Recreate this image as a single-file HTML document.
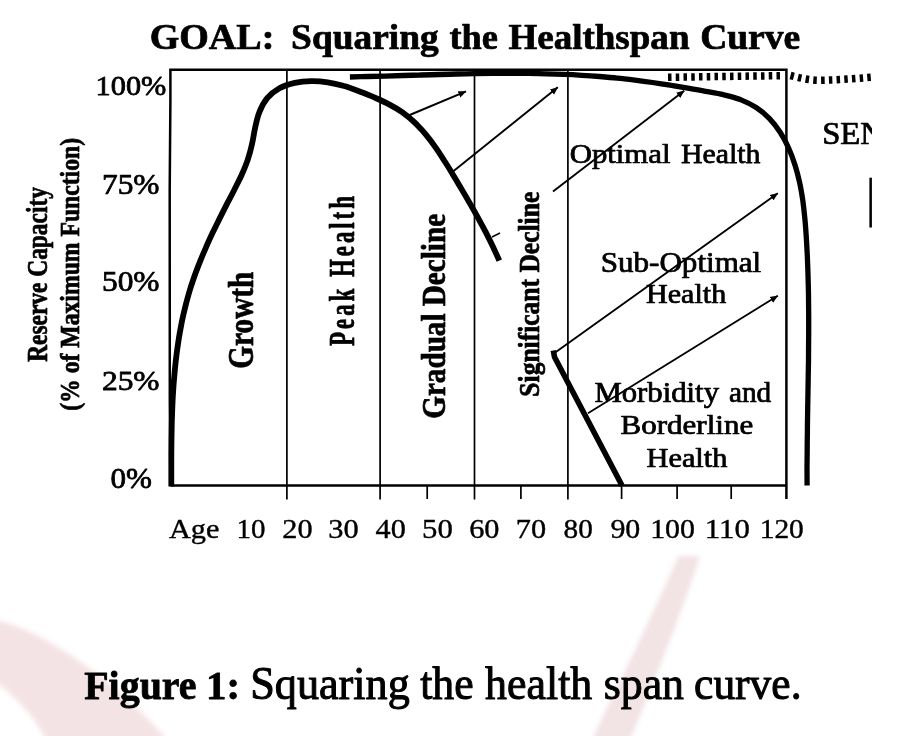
<!DOCTYPE html>
<html lang="en">
<head>
<meta charset="utf-8">
<title>Figure 1: Squaring the health span curve</title>
<style>
html,body{margin:0;padding:0;background:#fff;}
body{width:904px;height:736px;overflow:hidden;position:relative;}
svg{position:absolute;left:0;top:0;display:block;}
text{font-family:"Liberation Serif","Times New Roman",serif;fill:#000;white-space:pre;}
.b{font-weight:bold;}
.chart text{stroke:#000;stroke-width:0.75px;stroke-linejoin:round;}
.chart text.b{stroke-width:0.7px;}
.chart text.x{stroke-width:0.4px;}
</style>
</head>
<body>
<svg width="904" height="736" viewBox="0 0 904 736">
<defs>
<filter id="blur" x="-20%" y="-20%" width="140%" height="140%"><feGaussianBlur stdDeviation="2.5"/></filter>
<filter id="soft" x="-5%" y="-5%" width="110%" height="110%"><feGaussianBlur stdDeviation="0.4"/></filter>
<marker id="ah" viewBox="0 0 10 10" refX="9.5" refY="5" markerWidth="8" markerHeight="8" markerUnits="userSpaceOnUse" orient="auto"><path d="M0,0.8 L10,5 L0,9.2 Z" fill="#000"/></marker>
<clipPath id="clipR"><rect x="0" y="0" width="872" height="736"/></clipPath>
</defs>
<rect width="904" height="736" fill="#fff"/>

<!-- watermark -->
<g filter="url(#blur)">
<path d="M-10,619 L0,621 C45,632 115,680 164,736 L167,740 L46,740 C34,716 18,699 -10,677 Z" fill="#f4e3e5"/>
<path d="M678,556 L700,556 C688,595 660,668 630,740 L592,740 C625,670 660,600 678,556 Z" fill="#f2e3e5"/>
</g>

<g class="chart" filter="url(#soft)">
<!-- frame -->
<g fill="none" stroke="#000" stroke-width="2.5">
<path d="M170.4,486 L169.8,400 L169.7,190 L170.4,100 L170.4,69.7 H786.4 V499"/>
<path d="M170.4,485.5 H786.4"/>
</g>
<g fill="none" stroke="#000" stroke-width="1.7">
<path d="M286.9,70 V499.5 M380.1,70 V499.5 M474.5,70 V499.5 M567.9,70 V499.5"/>
<path d="M427.2,485 V499 M520.9,485 V499 M621.6,485 V499 M677.1,485 V499 M731.2,485 V499"/>
</g>

<!-- curves -->
<g fill="none" stroke="#000" stroke-linecap="butt" stroke-linejoin="round">
<path stroke-width="5.8" d="M171.3,486.4 C171.3,483.7 171.3,475.7 171.3,470.3 C171.3,465.0 171.3,459.6 171.3,454.2 C171.4,448.8 171.4,443.4 171.5,438.0 C171.6,432.5 171.7,427.1 171.8,421.7 C172.0,416.3 172.2,410.8 172.4,405.4 C172.6,400.0 172.9,394.5 173.3,389.1 C173.6,383.7 174.1,378.3 174.6,372.8 C175.1,367.4 175.6,362.0 176.3,356.7 C176.9,351.3 177.7,345.9 178.5,340.6 C179.3,335.2 180.3,329.9 181.3,324.6 C182.3,319.3 183.5,314.0 184.8,308.8 C186.0,303.6 187.4,298.4 188.9,293.2 C190.4,288.0 192.1,282.9 193.9,277.8 C195.6,272.7 197.6,267.6 199.6,262.6 C201.6,257.5 203.7,252.6 205.9,247.6 C208.0,242.6 210.3,237.7 212.6,232.8 C215.0,227.9 217.4,223.0 219.8,218.1 C222.2,213.3 224.7,208.4 227.1,203.6 C229.6,198.8 232.2,194.0 234.6,189.2 C237.0,184.4 239.5,179.7 241.7,174.8 C243.9,169.9 246.0,165.0 247.7,159.9 C249.4,154.7 250.8,149.5 252.0,144.1 C253.3,138.8 253.9,133.2 255.1,127.8 C256.3,122.5 257.4,117.0 259.4,112.1 C261.4,107.1 263.9,102.2 267.2,98.2 C270.6,94.2 274.8,90.9 279.4,88.3 C284.0,85.8 289.5,84.1 294.8,82.9 C300.1,81.7 305.9,81.2 311.4,81.1 C316.9,81.0 322.4,81.5 327.7,82.3 C333.0,83.1 338.1,84.3 343.2,85.8 C348.4,87.2 353.4,89.1 358.4,91.0 C363.5,92.9 368.5,95.0 373.6,97.1 C378.6,99.3 383.8,101.5 388.6,104.1 C393.4,106.6 398.2,109.3 402.5,112.4 C406.9,115.6 411.0,119.0 414.8,122.7 C418.7,126.4 422.3,130.3 425.7,134.4 C429.2,138.6 432.4,142.9 435.5,147.3 C438.7,151.7 441.6,156.4 444.5,161.0 C447.5,165.5 450.3,170.3 453.1,174.9 C455.9,179.6 458.7,184.2 461.4,188.9 C464.2,193.6 466.9,198.2 469.6,202.9 C472.3,207.6 474.9,212.2 477.5,216.9 C480.1,221.7 482.7,226.4 485.2,231.2 C487.7,236.0 490.1,240.8 492.5,245.7 C494.8,250.6 498.2,258.1 499.3,260.6"/>
<path stroke-width="5.3" d="M349.9,77.0 C352.8,76.9 361.7,76.7 367.6,76.5 C373.6,76.4 379.5,76.2 385.4,76.1 C391.4,75.9 397.3,75.7 403.2,75.5 C409.2,75.3 415.1,75.2 421.1,75.0 C427.0,74.8 433.0,74.6 439.0,74.5 C444.9,74.3 450.9,74.1 456.8,74.0 C462.8,73.9 468.7,73.7 474.7,73.6 C480.7,73.5 486.6,73.4 492.6,73.4 C498.5,73.3 504.5,73.3 510.4,73.3 C516.4,73.3 522.3,73.3 528.3,73.4 C534.2,73.5 540.2,73.6 546.1,73.8 C552.1,73.9 558.0,74.1 563.9,74.4 C569.9,74.6 575.8,74.9 581.7,75.3 C587.7,75.6 593.6,76.0 599.5,76.5 C605.4,77.0 611.3,77.5 617.2,78.1 C623.1,78.7 629.0,79.4 634.9,80.1 C640.7,80.8 646.6,81.6 652.5,82.5 C658.4,83.4 664.2,84.3 670.1,85.2 C676.0,86.2 681.9,87.2 687.8,88.2 C693.7,89.2 699.6,90.2 705.5,91.3 C711.5,92.4 717.5,93.3 723.3,94.7 C729.1,96.1 735.0,97.5 740.5,99.6 C745.9,101.8 751.3,104.3 756.2,107.5 C761.0,110.6 765.5,114.4 769.5,118.6 C773.5,122.7 777.1,127.5 780.3,132.5 C783.5,137.4 786.3,142.8 788.7,148.3 C791.2,153.8 793.3,159.6 795.1,165.4 C796.9,171.1 798.4,177.0 799.7,182.8 C801.0,188.7 801.9,194.5 802.8,200.4 C803.6,206.3 804.2,212.2 804.8,218.1 C805.4,223.9 805.8,229.9 806.2,235.8 C806.6,241.7 806.9,247.6 807.2,253.5 C807.5,259.5 807.7,265.4 807.9,271.3 C808.1,277.3 808.2,283.2 808.4,289.1 C808.5,295.1 808.6,301.0 808.6,307.0 C808.7,312.9 808.7,318.9 808.7,324.8 C808.7,330.8 808.7,336.7 808.6,342.7 C808.6,348.7 808.5,354.6 808.5,360.6 C808.4,366.5 808.3,372.5 808.2,378.5 C808.1,384.4 808.0,390.4 807.9,396.3 C807.8,402.3 807.7,408.2 807.6,414.2 C807.5,420.1 807.4,426.1 807.4,432.0 C807.3,438.0 807.2,443.9 807.2,449.9 C807.1,455.8 807.1,461.8 807.0,467.7 C807.0,473.6 807.1,482.5 807.1,485.5"/>
<path stroke-width="5.6" d="M553.3,350.5 L554.5,357 L622,485.5"/>
</g>
<!-- hatched line -->
<g fill="none" stroke="#000" stroke-width="7.5" stroke-dasharray="3.5 4.25" clip-path="url(#clipR)">
<path d="M668,77.3 L784,75.6"/>
<path d="M790.5,75.5 C800,78 810,80.5 820,80.3 C840,80 855,78.5 875,77"/>
</g>
<!-- arrows -->
<g fill="none" stroke="#000" stroke-width="1.9" marker-end="url(#ah)">
<path d="M409.7,115 L466,91.4"/>
<path d="M453,171.5 L557.8,87.3"/>
<path d="M553,191.5 L684.2,90.8"/>
<path d="M554.5,353 L777.8,193.2"/>
<path d="M588,413.2 L777.8,295.8"/>
</g>
<path d="M492,237 L500,233" stroke="#000" stroke-width="1.5" fill="none"/>
<rect x="869.4" y="177.7" width="2.5" height="49.8" fill="#000"/>

<!-- text -->
<text class="b" transform="translate(149.74,49.15) scale(1.0830,1)" font-size="35.11">GOAL:</text>
<text class="b" transform="translate(291.08,49.15) scale(1.0663,1)" font-size="35.11">Squaring</text>
<text class="b" transform="translate(449.4,49.15) scale(1.0364,1)" font-size="35.11">the</text>
<text class="b" transform="translate(508.39,49.15) scale(1.0551,1)" font-size="35.11">Healthspan</text>
<text class="b" transform="translate(700.16,49.15) scale(1.0691,1)" font-size="35.11">Curve</text>
<text transform="translate(95.59,94.92) scale(1.0943,1)" font-size="27.74">100%</text>
<text transform="translate(101.93,194.03) scale(1.0975,1)" font-size="28.65">75%</text>
<text transform="translate(101.95,291.03) scale(1.0973,1)" font-size="28.65">50%</text>
<text transform="translate(101.92,389.93) scale(1.1154,1)" font-size="28.2">25%</text>
<text transform="translate(110.39,487.73) scale(1.0802,1)" font-size="28.8">0%</text>
<text class="x" transform="translate(168.95,537.8) scale(1.0854,1)" font-size="27.97">Age</text>
<text class="x" transform="translate(236.54,537.8) scale(1.0360,1)" font-size="27.97">10</text>
<text class="x" transform="translate(282.29,537.8) scale(1.0822,1)" font-size="27.97">20</text>
<text class="x" transform="translate(328.33,537.8) scale(1.0881,1)" font-size="27.97">30</text>
<text class="x" transform="translate(375.55,537.8) scale(1.0801,1)" font-size="27.97">40</text>
<text class="x" transform="translate(422.01,537.8) scale(1.1001,1)" font-size="27.97">50</text>
<text class="x" transform="translate(469.19,537.8) scale(1.0822,1)" font-size="27.97">60</text>
<text class="x" transform="translate(515.83,537.8) scale(1.0845,1)" font-size="27.97">70</text>
<text class="x" transform="translate(563.58,537.8) scale(1.0457,1)" font-size="27.97">80</text>
<text class="x" transform="translate(610.4,537.8) scale(1.0707,1)" font-size="27.97">90</text>
<text class="x" transform="translate(650.16,537.8) scale(1.0700,1)" font-size="27.97">100</text>
<text class="x" transform="translate(704.78,537.8) scale(1.1022,1)" font-size="27.97">110</text>
<text class="x" transform="translate(759.7,537.8) scale(1.0519,1)" font-size="27.97">120</text>
<text transform="translate(569.75,162.82) scale(1.0911,1)" font-size="28.17">Optimal</text>
<text transform="translate(680.93,162.82) scale(1.0601,1)" font-size="28.17">Health</text>
<text transform="translate(600.76,271.83) scale(1.0854,1)" font-size="28.63">Sub-Optimal</text>
<text transform="translate(646.02,302.83) scale(1.0980,1)" font-size="27.4">Health</text>
<text transform="translate(594.41,401.83) scale(1.0734,1)" font-size="28.63">Morbidity</text>
<text transform="translate(728.95,401.83) scale(1.0226,1)" font-size="28.63">and</text>
<text transform="translate(620.6,434.12) scale(1.1440,1)" font-size="27.1">Borderline</text>
<text transform="translate(646.52,466.73) scale(1.1077,1)" font-size="27.4">Health</text>
<text class="b" transform="translate(46.99,361.8) rotate(-90) scale(0.7883,1)" font-size="29.68">Reserve Capacity</text>
<text class="b" transform="translate(78.99,410.8) rotate(-90) scale(0.8646,1)" font-size="27.39">(% of Maximum Function)</text>
<text class="b" transform="translate(253.29,368.67) rotate(-90) scale(0.8305,1)" font-size="35.21">Growth</text>
<text class="b" transform="translate(354.19,345.9) rotate(-90) scale(0.6600,1)" font-size="34.87" letter-spacing="4.41">Peak Health</text>
<text class="b" transform="translate(444.99,418.76) rotate(-90) scale(0.8580,1)" font-size="34">Gradual Decline</text>
<text class="b" transform="translate(538.99,396.63) rotate(-90) scale(0.8452,1)" font-size="30.21">Significant Decline</text>
<g clip-path="url(#clipR)"><text transform="translate(822.15,143.53) scale(1.0687,1)" font-size="30.61">SEN</text></g>
</g>

<!-- caption -->
<g class="caption" stroke="#000" stroke-width="0.55" stroke-linejoin="round">
<text class="b" stroke-width="0.8" transform="translate(84.2,699) scale(0.9904,1)" font-size="40.31">Figure</text>
<text class="b" stroke-width="0.8" transform="translate(206.04,699) scale(1.0111,1)" font-size="40.31">1:</text>
<text stroke-width="1.0" transform="translate(250.23,699.3) scale(0.9688,1)" font-size="45.61">Squaring</text>
<text stroke-width="1.0" transform="translate(420.18,699.3) scale(0.9584,1)" font-size="45.61">the</text>
<text stroke-width="1.0" transform="translate(485.08,699.3) scale(0.9625,1)" font-size="45.61">health</text>
<text stroke-width="1.0" transform="translate(603.75,699.3) scale(0.9595,1)" font-size="45.61">span</text>
<text stroke-width="1.0" transform="translate(694.08,699.3) scale(0.9536,1)" font-size="45.61">curve.</text>
</g>
</svg>
</body>
</html>
